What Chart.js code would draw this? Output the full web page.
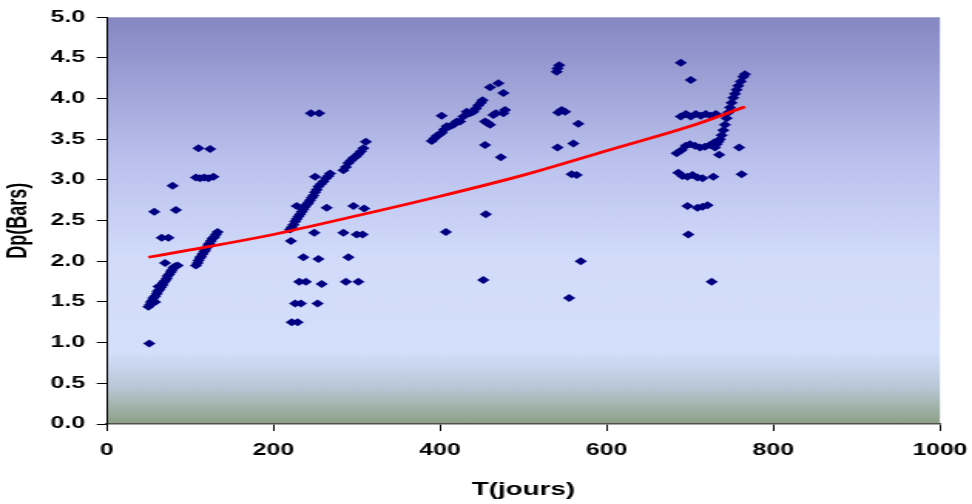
<!DOCTYPE html>
<html>
<head>
<meta charset="utf-8">
<script src="https://cdn.jsdelivr.net/npm/chart.js@4/dist/chart.umd.min.js"></script>
<style>
  html, body { margin: 0; padding: 0; background: #ffffff; overflow: hidden; }
  #wrap { width: 630px; height: 504px; transform: scaleX(1.542857); transform-origin: 0 0; }
</style>
</head>
<body>
<div id="wrap"><canvas id="c" width="630" height="504"></canvas></div>
<script>
// Pressure drop Dp (bars) against time T (days), one group per run
const run1 = [
  [50,1.44],[52,1.47],[53,1.50],[55,1.52],[56,1.55],[58,1.57],[58,1.50],[60,1.60],[61,1.63],
  [63,1.65],[62,1.69],[65,1.68],[67,1.71],[68,1.74],[70,1.76],[72,1.79],[73,1.82],[75,1.84],
  [77,1.87],[78,1.89],[80,1.92],[82,1.94],[85,1.95],
  [51,0.99],[70,1.98],[66,2.29],[74,2.29],[57,2.61],[83,2.63],[79,2.93]
];
const run2 = [
  [107,1.95],[109,1.98],[110,2.01],[112,2.04],[113,2.06],[115,2.09],[117,2.12],[118,2.14],
  [120,2.17],[122,2.20],[123,2.22],[125,2.25],[127,2.28],[129,2.30],[131,2.33],[133,2.36],
  [107,3.03],[112,3.02],[117,3.03],[122,3.02],[128,3.04],
  [110,3.39],[124,3.38]
];
const run3 = [
  [220,2.39],[222,2.42],[224,2.45],[226,2.49],[228,2.52],[230,2.55],[232,2.58],[234,2.61],
  [236,2.64],[238,2.67],[240,2.70],[242,2.72],[244,2.75],[246,2.78],[248,2.81],[250,2.85],
  [252,2.88],[254,2.92],[257,2.95],[260,2.98],[263,3.02],[266,3.05],[268,3.08],
  [284,3.12],[287,3.16],[290,3.21],[293,3.24],[296,3.27],[299,3.29],[302,3.32],[305,3.35],
  [308,3.39],[311,3.47],
  [245,3.82],[255,3.82],[228,2.68],[250,3.04],[264,2.66],[296,2.68],[309,2.65],
  [221,2.25],[249,2.35],[284,2.35],[300,2.33],[307,2.33],
  [236,2.05],[254,2.03],[290,2.05],
  [231,1.75],[239,1.75],[258,1.72],[287,1.75],[302,1.75],
  [226,1.48],[233,1.48],[253,1.48],[222,1.25],[229,1.25]
];
const run4 = [
  [390,3.48],[393,3.51],[396,3.54],[399,3.56],[402,3.58],[405,3.62],[408,3.66],[412,3.66],
  [416,3.68],[420,3.72],[424,3.72],[428,3.78],[432,3.84],[436,3.82],[440,3.84],[443,3.88],
  [446,3.92],[449,3.95],[451,3.98],
  [402,3.79],[454,3.72],[457,3.70],[460,3.68],[464,3.80],[467,3.82],[478,3.86],[476,3.82],
  [460,4.14],[470,4.19],[476,4.07],[454,3.43],[473,3.28],[455,2.58],[407,2.36],[452,1.77]
];
const run5 = [
  [543,4.41],[541,4.37],[540,4.33],[542,3.83],[546,3.86],[550,3.84],[566,3.69],
  [541,3.40],[560,3.45],[558,3.07],[564,3.06],[569,2.00],[555,1.55]
];
const run6 = [
  [689,4.44],[701,4.23],
  [689,3.78],[695,3.81],[701,3.78],[707,3.81],[713,3.79],[719,3.81],[725,3.79],[731,3.81],
  [684,3.33],[690,3.37],[695,3.42],[700,3.44],[706,3.42],[712,3.40],[718,3.41],[724,3.43],[729,3.46],
  [735,3.31],
  [686,3.09],[691,3.05],[697,3.04],[703,3.06],[709,3.03],[715,3.02],[728,3.04],
  [697,2.68],[709,2.66],[715,2.67],[721,2.69],
  [698,2.33],[726,1.75],
  [730,3.40],[732,3.44],[734,3.47],[736,3.50],[738,3.55],[740,3.61],[742,3.68],[744,3.76],
  [746,3.83],[748,3.89],[750,3.95],[752,4.01],[754,4.06],[756,4.11],[758,4.16],[761,4.21],
  [764,4.27],[766,4.30],
  [759,3.40],[762,3.07]
];

// Exponential trend curve, sampled
const trendT  = [50, 100, 200, 300, 400, 500, 600, 700, 766];
const trendDp = [2.05, 2.14, 2.33, 2.56, 2.80, 3.06, 3.36, 3.66, 3.90];

// Axis ticks
const xTicks = [0, 200, 400, 600, 800, 1000];
const yTicks = [0, 0.5, 1, 1.5, 2, 2.5, 3, 3.5, 4, 4.5, 5];

const points = [run1, run2, run3, run4, run5, run6].flat().map(p => ({ x: p[0], y: p[1] }));
const trend = trendT.map((t, i) => ({ x: t, y: trendDp[i] }));

const plotBackground = {
  id: 'plotBackground',
  beforeDraw(chart) {
    const { ctx, chartArea: a } = chart;
    const g = ctx.createLinearGradient(0, a.top, 0, a.bottom);
    g.addColorStop(0.00, 'rgb(133,135,195)');
    g.addColorStop(0.35, 'rgb(186,193,237)');
    g.addColorStop(0.60, 'rgb(210,220,250)');
    g.addColorStop(0.82, 'rgb(212,223,251)');
    g.addColorStop(0.91, 'rgb(184,199,214)');
    g.addColorStop(1.00, 'rgb(140,160,132)');
    ctx.save();
    ctx.fillStyle = g;
    ctx.fillRect(a.left, a.top, a.right - a.left, a.bottom - a.top);
    ctx.restore();
  }
};

const tickFont = { family: '"Liberation Sans", Arial, sans-serif', size: 16, weight: 'bold' };
const titleFont = { family: '"Liberation Sans", Arial, sans-serif', size: 18, weight: 'bold' };

new Chart(document.getElementById('c'), {
  type: 'scatter',
  data: {
    datasets: [
      {
        type: 'line',
        data: trend,
        borderColor: '#ff0000',
        borderWidth: 2.8,
        pointRadius: 0,
        tension: 0.4,
        cubicInterpolationMode: 'monotone',
        fill: false,
        order: 0
      },
      {
        data: points,
        pointStyle: 'rectRot',
        pointRadius: 4,
        pointBorderWidth: 0,
        backgroundColor: '#000080',
        borderColor: '#000080',
        order: 1
      }
    ]
  },
  options: {
    responsive: false,
    animation: false,
    devicePixelRatio: 1,
    layout: { padding: { left: 0, right: 20.8, top: 17.3, bottom: 0 } },
    plugins: { legend: { display: false }, tooltip: { enabled: false } },
    scales: {
      x: {
        type: 'linear',
        min: 0, max: 1000,
        afterFit(s) { s.height = 80; s.paddingLeft = 0; s.paddingRight = 0; },
        afterBuildTicks(s) { s.ticks = xTicks.map(v => ({ value: v })); },
        grid: { display: true, drawOnChartArea: false, drawTicks: true, tickLength: 7, color: '#000000', lineWidth: 1 },
        border: { display: true, color: '#505050', width: 1.5 },
        ticks: { color: '#000000', font: tickFont, padding: 10, maxRotation: 0, callback: v => String(v) },
        title: { display: true, text: 'T(jours)', color: '#000000', font: titleFont, padding: { top: 0, bottom: 3.5 } }
      },
      y: {
        type: 'linear',
        min: 0, max: 5,
        afterFit(s) { s.width = 69.2; s.paddingTop = 0; s.paddingBottom = 0; },
        afterBuildTicks(s) { s.ticks = yTicks.map(v => ({ value: v })); },
        grid: { display: true, drawOnChartArea: false, drawTicks: true, tickLength: 6.5, color: '#000000', lineWidth: 1 },
        border: { display: true, color: '#000000', width: 1 },
        ticks: { color: '#000000', font: tickFont, padding: 7.6, callback: v => Number(v).toFixed(1) },
        title: { display: true, text: 'Dp(Bars)', color: '#000000', font: titleFont, padding: { top: 1.5, bottom: 0 } }
      }
    }
  },
  plugins: [plotBackground]
});
</script>
</body>
</html>
